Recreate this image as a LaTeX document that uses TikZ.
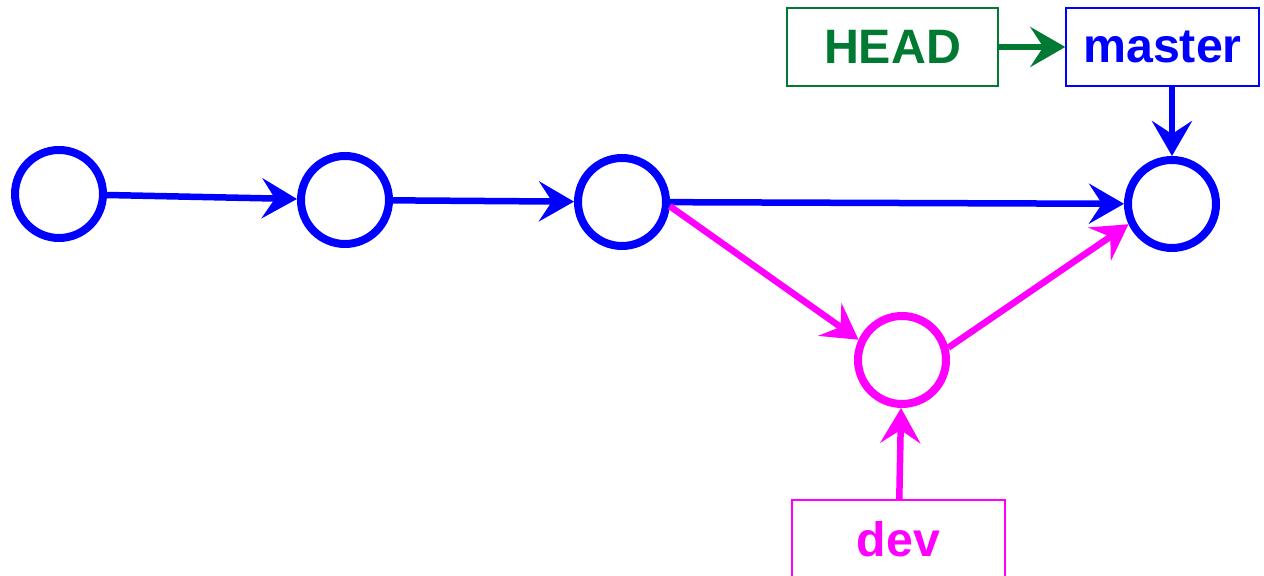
\documentclass[tikz,border=0pt]{standalone}
\usepackage{fontspec}
\setmainfont{Liberation Sans}
\usetikzlibrary{arrows.meta}
\definecolor{headgreen}{RGB}{0,122,51}
\definecolor{devpink}{RGB}{255,0,255}
\begin{document}
\begin{tikzpicture}
	[
	x=1cm, y=1cm, font=\fontsize{27.5}{30}\selectfont\bfseries,
	>={Stealth[length=0.7cm, width=0.8cm, inset=0.26cm]},
	%Voreinstellungen
	commit/.style={circle, draw=blue, line width=0.16cm, minimum size=1.76cm, inner sep=0pt},
	branch/.style={rectangle, draw, line width=0.8pt, minimum width=4.22cm, minimum height=1.56cm, inner sep=0pt},
	link/.style={->, line width=0.13cm}
	]
	
	%Rahmen
	\useasboundingbox (0,0) rectangle (25.28,11.52);
	
	%Commits
	\node[commit] (c1) at (1.18,7.64) {};
	\node[commit] (c2) at (6.90,7.52) {};
	\node[commit] (c3) at (12.44,7.48) {};
	\node[commit] (c4) at (23.44,7.44) {};
	\node[commit, draw=devpink] (d1) at (18.04,4.32) {};
	
	%Zeiger
	\node[branch, draw=headgreen, text=headgreen] (head) at (17.85,10.58) {HEAD};
	\node[branch, draw=blue, text=blue, minimum width=3.86cm] (master) at (23.25,10.58) {master};
	\node[branch, draw=devpink, text=devpink, minimum width=4.26cm] (dev) at (17.97,0.74) {dev};
	
	%Kanten master
	\draw[link, blue] (c1) -- (c2);
	\draw[link, blue] (c2) -- (c3);
	\draw[link, blue] (c3) -- (c4);
	
	%Kanten dev
	\draw[link, devpink] (c3.-5) -- (d1.155);
	\draw[link, devpink] (d1.15) -- (c4.205);
	
	%Pfeile der Zeiger
	\draw[link, headgreen] (head) -- (master);
	\draw[link, blue] (c4 |- master.south) -- (c4);
	\draw[link, devpink] (dev) -- (d1);
\end{tikzpicture}
\end{document}
